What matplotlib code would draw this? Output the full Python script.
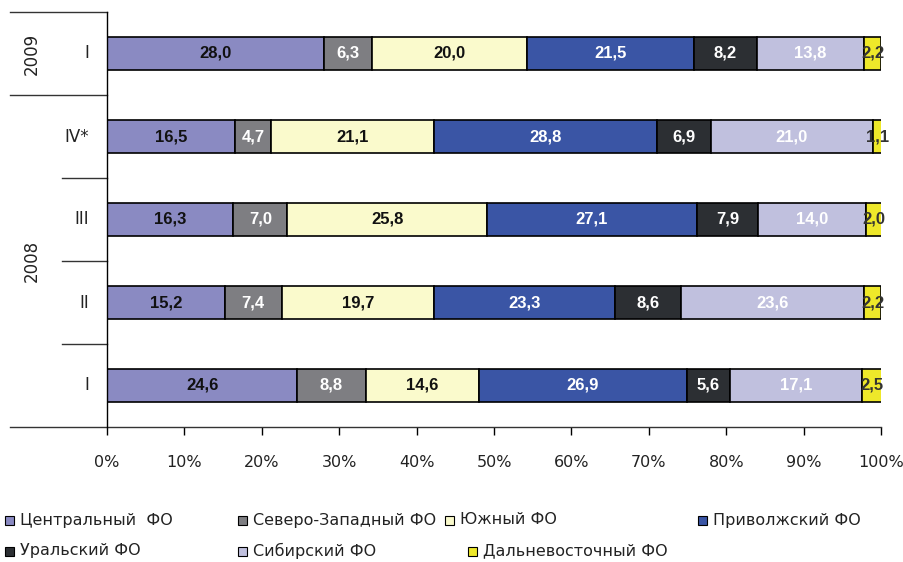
import matplotlib
matplotlib.use("Agg")
import matplotlib.pyplot as plt
from matplotlib.patches import Rectangle
import numpy as np

# rows from bottom to top
PERIODS = ["I", "II", "III", "IV*", "I"]
YEARS = ["2008", "2009"]

DISTRICTS = [
    "Центральный  ФО",
    "Северо-Западный ФО",
    "Южный ФО",
    "Приволжский ФО",
    "Уральский ФО",
    "Сибирский ФО",
    "Дальневосточный ФО",
]

# shares per district, rows: 2008 I, II, III, IV*, 2009 I
CENTRAL = [24.6, 15.2, 16.3, 16.5, 28.0]
NORTHWEST = [8.8, 7.4, 7.0, 4.7, 6.3]
SOUTH = [14.6, 19.7, 25.8, 21.1, 20.0]
VOLGA = [26.9, 23.3, 27.1, 28.8, 21.5]
URAL = [5.6, 8.6, 7.9, 6.9, 8.2]
SIBERIA = [17.1, 23.6, 14.0, 21.0, 13.8]
FAREAST = [2.5, 2.2, 2.0, 1.1, 2.2]

SERIES = [CENTRAL, NORTHWEST, SOUTH, VOLGA, URAL, SIBERIA, FAREAST]

COLORS = ["#8a8ac2", "#7e7e82", "#fafacc", "#3a55a5", "#2c2f33", "#c0c0de", "#eee82a"]
TEXT_COLORS = ["#111111", "white", "#111111", "white", "white", "white", "#333333"]

W, H = 904, 562
fig = plt.figure(figsize=(W / 100, H / 100), dpi=100)
ax = fig.add_axes([107 / W, 1 - 427 / H, (881 - 107) / W, (427 - 12) / H])

y = np.arange(len(PERIODS))
left = np.zeros(len(PERIODS))
for vals, color, tcolor in zip(SERIES, COLORS, TEXT_COLORS):
    vals = np.array(vals)
    ax.barh(y, vals, left=left, height=0.4, color=color,
            edgecolor="black", linewidth=1.2)
    for yi, v, l in zip(y, vals, left):
        ax.text(l + v / 2, yi, f"{v:.1f}".replace(".", ","),
                ha="center", va="center", fontsize=12, fontweight="bold",
                family="Liberation Sans", color=tcolor)
    left += vals

ax.set_xlim(0, 100)
ax.set_ylim(-0.5, 4.5)
ax.set_xticks(np.arange(0, 101, 10))
ax.set_xticklabels([f"{t}%" for t in range(0, 101, 10)], fontsize=11.5, color="#222222")
ax.tick_params(axis="x", direction="out", length=6, width=1, pad=14, color="black")
ax.set_yticks([])
for s in ["top", "right", "bottom"]:
    ax.spines[s].set_visible(False)
ax.spines["left"].set_linewidth(1)


# group lines on the left
def hline(px_from, ydata):
    ax.plot([(px_from - 107) / (881 - 107) * 100, 100 if ydata == -0.5 else 0],
            [ydata, ydata], color="#333333", lw=1, clip_on=False)


hline(10, 4.5)
hline(10, 3.5)
hline(62, 2.5)
hline(62, 1.5)
hline(62, 0.5)
hline(10, -0.5)

for yi, p in zip(y, PERIODS):
    ax.text(-2.3, yi, p, ha="right", va="center", fontsize=12, color="#222222")

ax.text(-(107 - 32) / 774 * 100, 4, YEARS[1], rotation=90, ha="center",
        va="center", fontsize=12, color="#222222")
ax.text(-(107 - 32) / 774 * 100, 1.5, YEARS[0], rotation=90, ha="center",
        va="center", fontsize=12, color="#222222")

# legend
legend_pos = [(5, 520), (238, 520), (445, 520), (698, 520),
              (5, 551), (238, 551), (468, 551)]
for (px, py), name, color in zip(legend_pos, DISTRICTS, COLORS):
    fig.patches.append(Rectangle((px / W, 1 - (py + 5) / H), 9 / W, 9 / H,
                                 transform=fig.transFigure, facecolor=color,
                                 edgecolor="black", linewidth=0.8))
    fig.text((px + 15) / W, 1 - py / H, name, ha="left", va="center",
             fontsize=11.5, color="#222222")

fig.savefig("out.png", dpi=100)
